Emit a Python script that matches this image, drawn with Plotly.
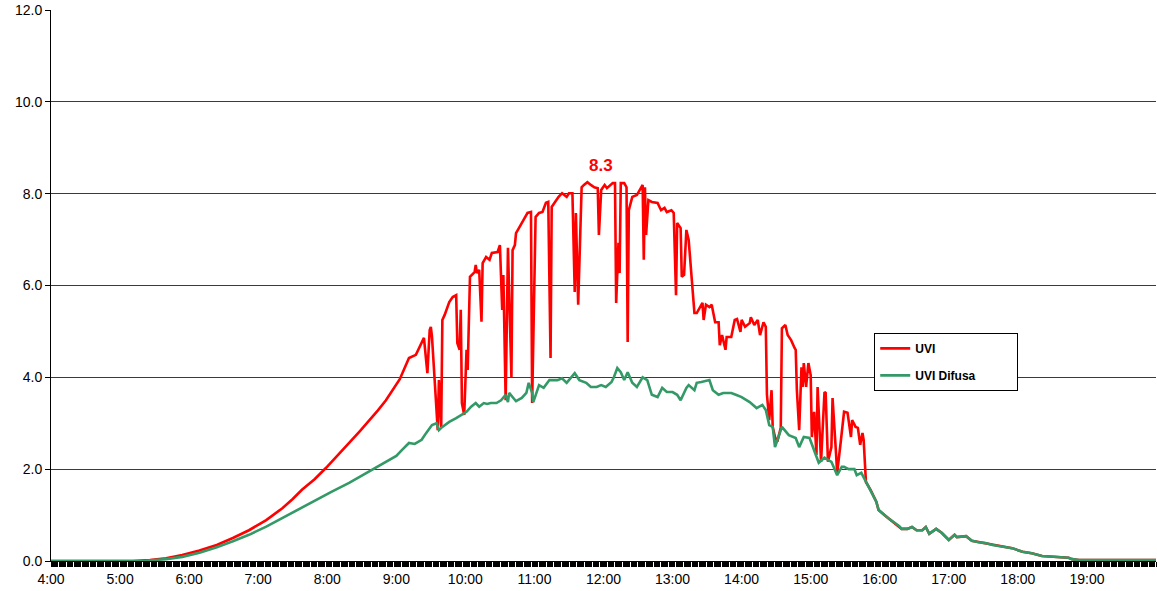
import plotly.graph_objects as go

DAY = "2024-06-21 "

# UVI (global)
uvi_times = ["04:00", "05:11", "05:26", "05:40", "05:54", "06:09", "06:24", "06:38", "06:52", "07:07",
             "07:21", "07:30", "07:38", "07:49", "07:59", "08:09", "08:19", "08:28", "08:37", "08:44",
             "08:51", "08:57", "09:03", "09:11", "09:17", "09:24", "09:27", "09:29", "09:30", "09:31",
             "09:35", "09:36", "09:37", "09:39", "09:40", "09:42", "09:46", "09:49", "09:52", "09:53",
             "09:55", "09:56", "09:57", "09:59", "10:01", "10:02", "10:04", "10:08", "10:09", "10:10",
             "10:12", "10:14", "10:15", "10:18", "10:21", "10:23", "10:28", "10:30", "10:32", "10:33",
             "10:35", "10:36", "10:37", "10:40", "10:41", "10:43", "10:44", "10:47", "10:54", "10:57",
             "10:58", "11:01", "11:04", "11:07", "11:10", "11:12", "11:14", "11:15", "11:19", "11:21",
             "11:24", "11:28", "11:30", "11:33", "11:35", "11:36", "11:38", "11:41", "11:43", "11:46",
             "11:49", "11:52", "11:55", "11:56", "11:58", "12:01", "12:03", "12:08", "12:10", "12:11",
             "12:13", "12:14", "12:15", "12:18", "12:20", "12:21", "12:22", "12:25", "12:29", "12:33",
             "12:34", "12:35", "12:36", "12:37", "12:39", "12:42", "12:47", "12:50", "12:53", "12:55",
             "12:59", "13:01", "13:03", "13:04", "13:07", "13:08", "13:10", "13:12", "13:14", "13:19",
             "13:21", "13:25", "13:26", "13:27", "13:29", "13:32", "13:34", "13:37", "13:40", "13:41",
             "13:43", "13:46", "13:47", "13:51", "13:54", "13:56", "13:59", "14:00", "14:03", "14:07",
             "14:08", "14:11", "14:14", "14:16", "14:19", "14:21", "14:22", "14:24", "14:26", "14:27",
             "14:29", "14:31", "14:34", "14:35", "14:38", "14:40", "14:43", "14:46", "14:47", "14:48",
             "14:50", "14:52", "14:53", "14:54", "14:56", "14:58", "15:00", "15:01", "15:03", "15:05",
             "15:06", "15:09", "15:12", "15:13", "15:15", "15:18", "15:19", "15:22", "15:23", "15:26",
             "15:29", "15:32", "15:33", "15:35", "15:36", "15:39", "15:41", "15:43", "15:45", "15:46"]
uvi_values = [0.00, 0.00, 0.02, 0.06, 0.13, 0.23, 0.35, 0.50, 0.67, 0.89,
              1.15, 1.35, 1.55, 1.78, 2.03, 2.29, 2.57, 2.82, 3.07, 3.28,
              3.50, 3.72, 3.96, 4.42, 4.49, 4.86, 4.09, 5.03, 5.10, 4.88,
              3.44, 2.85, 3.94, 2.92, 5.25, 5.36, 5.64, 5.75, 5.79, 4.75,
              4.60, 5.47, 3.44, 3.18, 4.60, 4.16, 6.19, 6.29, 6.45, 6.27,
              6.34, 5.21, 6.49, 6.62, 6.56, 6.71, 6.73, 6.88, 5.47, 6.23,
              3.50, 5.10, 6.82, 4.00, 6.77, 6.88, 7.14, 7.27, 7.58, 7.60,
              3.44, 7.49, 7.58, 7.60, 7.80, 7.82, 4.42, 7.71, 7.86, 7.93,
              8.01, 7.93, 8.01, 8.01, 5.86, 7.58, 5.58, 8.14, 8.19, 8.25,
              8.19, 8.14, 8.12, 7.10, 8.08, 8.19, 8.12, 8.23, 8.23, 5.62,
              6.93, 6.27, 8.23, 8.23, 8.14, 4.77, 7.64, 7.93, 7.97, 8.14,
              8.19, 6.56, 8.14, 7.10, 7.86, 7.82, 7.80, 7.64, 7.69, 7.60,
              7.64, 7.58, 5.79, 7.36, 7.25, 6.19, 6.23, 7.21, 6.99, 5.40,
              5.40, 5.58, 5.62, 5.25, 5.58, 5.53, 5.58, 5.20, 5.20, 4.70,
              4.92, 4.60, 4.88, 4.88, 5.25, 5.27, 4.99, 5.25, 5.10, 5.18,
              5.31, 5.14, 5.25, 4.92, 5.20, 5.10, 3.62, 3.07, 3.72, 2.92,
              2.70, 2.60, 2.90, 5.07, 5.14, 4.92, 4.81, 4.64, 4.60, 3.72,
              2.85, 4.22, 3.79, 4.31, 3.79, 4.31, 4.05, 2.70, 3.25, 2.31,
              3.79, 2.16, 3.68, 3.66, 2.16, 2.48, 3.55, 2.35, 1.92, 2.57,
              3.25, 3.23, 3.07, 2.70, 3.07, 2.92, 2.90, 2.53, 2.79, 2.64]

# UVI Difusa (diffuse)
dif_times = ["04:00", "05:20", "05:40", "05:54", "06:09", "06:24", "06:38", "06:52", "07:07", "07:21",
             "07:35", "07:50", "08:04", "08:19", "08:34", "08:48",
             "09:00", "09:05", "09:11", "09:16", "09:22", "09:26", "09:31", "09:35", "09:37", "09:40",
             "09:46", "09:52", "09:56", "10:01", "10:05", "10:09", "10:12", "10:16", "10:19", "10:22",
             "10:27", "10:31", "10:35", "10:37", "10:38", "10:41", "10:44", "10:49", "10:53", "10:55",
             "10:58", "10:59", "11:02", "11:04", "11:08", "11:13", "11:17", "11:20", "11:24", "11:28",
             "11:35", "11:39", "11:45", "11:49", "11:54", "11:58", "12:02", "12:07", "12:09", "12:12",
             "12:15", "12:18", "12:21", "12:25", "12:29", "12:34", "12:38", "12:42", "12:47", "12:51",
             "12:55", "13:00", "13:04", "13:07", "13:12", "13:14", "13:19", "13:21", "13:25", "13:29",
             "13:32", "13:35", "13:40", "13:44", "13:51", "13:55", "14:00", "14:07", "14:13", "14:18",
             "14:21", "14:24", "14:27", "14:29", "14:32", "14:35", "14:41", "14:47", "14:50", "14:54",
             "14:59", "15:03", "15:07", "15:12", "15:18", "15:23", "15:27", "15:29", "15:33", "15:38",
             "15:40", "15:44"]
dif_values = [0.00, 0.00, 0.04, 0.09, 0.18, 0.30, 0.43, 0.57, 0.75, 0.94,
              1.13, 1.33, 1.51, 1.70, 1.92, 2.13,
              2.29, 2.42, 2.57, 2.55, 2.64, 2.79, 2.96, 3.00, 2.85, 2.92,
              3.03, 3.11, 3.18, 3.25, 3.36, 3.44, 3.36, 3.44, 3.42, 3.44,
              3.44, 3.50, 3.62, 3.46, 3.66, 3.57, 3.48, 3.55, 3.66, 3.88,
              3.66, 3.46, 3.66, 3.83, 3.77, 3.94, 3.94, 3.94, 3.98, 3.88,
              4.09, 3.94, 3.88, 3.79, 3.79, 3.83, 3.79, 3.90, 4.00, 4.20,
              4.11, 3.94, 4.11, 3.88, 3.79, 4.00, 3.94, 3.62, 3.57, 3.77,
              3.68, 3.68, 3.62, 3.50, 3.77, 3.83, 3.72, 3.88, 3.90, 3.92,
              3.94, 3.72, 3.62, 3.66, 3.66, 3.62, 3.57, 3.46, 3.33, 3.40,
              3.29, 2.96, 2.92, 2.48, 2.68, 2.92, 2.74, 2.68, 2.48, 2.70,
              2.68, 2.40, 2.14, 2.25, 2.16, 1.87, 2.05, 2.05, 2.00, 2.00,
              1.87, 1.92]

# Late afternoon: both series coincide
tail_times = ["15:48", "15:52", "15:57", "15:59", "16:04", "16:08", "16:12", "16:17", "16:19", "16:24",
              "16:28", "16:32", "16:37", "16:40", "16:43", "16:49", "16:54", "17:00", "17:05", "17:07",
              "17:15", "17:20", "17:26", "17:32", "17:38", "17:44", "17:50", "17:55", "18:04", "18:12",
              "18:21", "18:30", "18:44", "18:47", "18:53", "20:00"]
tail_values = [1.72, 1.55, 1.29, 1.11, 1.00, 0.92, 0.85, 0.76, 0.70, 0.70,
               0.74, 0.67, 0.67, 0.74, 0.59, 0.70, 0.61, 0.46, 0.57, 0.52,
               0.54, 0.44, 0.41, 0.39, 0.35, 0.33, 0.30, 0.28, 0.20, 0.17,
               0.11, 0.09, 0.07, 0.04, 0.02, 0.02]

hour_ticks = ["04:00", "05:00", "06:00", "07:00", "08:00", "09:00", "10:00", "11:00",
              "12:00", "13:00", "14:00", "15:00", "16:00", "17:00", "18:00", "19:00"]
hour_labels = ["4:00", "5:00", "6:00", "7:00", "8:00", "9:00", "10:00", "11:00",
               "12:00", "13:00", "14:00", "15:00", "16:00", "17:00", "18:00", "19:00"]
y_ticks = [0, 2, 4, 6, 8, 10, 12]

series_names = ["UVI", "UVI Difusa"]
peak_label = "8.3"
peak_time = "11:58"
peak_label_y = 8.62


def ts(lst):
    return [DAY + t for t in lst]


FONT = "Arial, Liberation Sans, sans-serif"
PAD = "\u00a0" * 11  # widens the legend box like the original

fig = go.Figure()
fig.add_trace(go.Scatter(
    x=ts(uvi_times + tail_times), y=uvi_values + tail_values,
    mode="lines", name=series_names[0], legendgroup="a",
    line=dict(color="#FF0000", width=2.6)))
fig.add_trace(go.Scatter(
    x=ts(dif_times + tail_times), y=dif_values + tail_values,
    mode="lines", name=series_names[1] + PAD, legendgroup="b",
    line=dict(color="#339966", width=2.6)))

fig.add_annotation(x=DAY + peak_time, y=peak_label_y, text=peak_label, showarrow=False,
                   font=dict(family=FONT, size=17, color="#FF0000", weight="bold"))

fig.update_layout(
    width=1157, height=591,
    margin=dict(l=51, r=1, t=10, b=30),
    paper_bgcolor="white", plot_bgcolor="white",
    font=dict(family=FONT, size=14, color="#000"),
    showlegend=True,
    legend=dict(x=0.745, y=0.414, xanchor="left", yanchor="top",
                bgcolor="white", bordercolor="#000", borderwidth=1,
                font=dict(family=FONT, size=12, color="#000", weight="bold"),
                tracegroupgap=8, traceorder="grouped"),
)
fig.update_xaxes(
    type="date",
    range=[DAY + "04:00", DAY + "20:00"],
    tickvals=ts(hour_ticks), ticktext=hour_labels,
    ticks="outside", ticklen=5, tickcolor="#000", tickwidth=1,
    showgrid=False, showline=True, linecolor="#000", linewidth=1,
    minor=dict(dtick=60000, ticks="outside", ticklen=5, tickcolor="#000", tickwidth=1, showgrid=False),
    tickfont=dict(family=FONT, size=14, color="#000"),
    zeroline=False, automargin=False,
)
fig.update_yaxes(
    range=[0, 12], tickvals=y_ticks, tickformat=".1f",
    ticks="outside", ticklen=5, tickcolor="#000",
    showgrid=True, gridcolor="#3a3a3a", gridwidth=1,
    showline=True, linecolor="#000", linewidth=1,
    zeroline=False, automargin=False,
    tickfont=dict(family=FONT, size=14, color="#000"),
)

fig.write_html("out.html", config={"displayModeBar": False},
               post_script="document.body.style.margin='0px';")
